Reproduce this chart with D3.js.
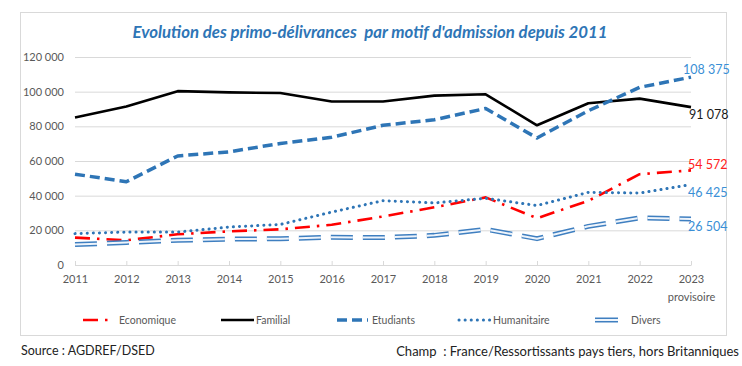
<!DOCTYPE html>
<html>
<head>
<meta charset="utf-8">
<script src="https://cdn.jsdelivr.net/npm/d3@7"></script>
<style>
  body { margin: 0; background: #fff; }
  text { font-family: Lato, "Open Sans", sans-serif; }
</style>
</head>
<body>
<div id="graph"></div>
<script>
// données
var years = ["2011","2012","2013","2014","2015","2016","2017","2018","2019","2020","2021","2022","2023"];
var economique  = [15800, 14300, 17700, 19400, 20600, 23200, 28000, 33300, 39000, 27000, 37000, 52400, 54572];
var familial    = [85100, 91400, 100300, 99600, 99200, 94300, 94300, 97700, 98500, 80600, 93300, 96000, 91078];
var etudiants   = [52400, 48000, 62900, 65300, 70100, 73700, 80600, 83800, 90300, 73300, 89000, 102500, 108375];
var humanitaire = [18100, 19000, 19000, 21900, 23400, 30500, 37100, 35800, 38500, 34300, 41900, 41500, 46425];
var divers      = [11800, 13000, 14300, 14900, 15200, 16000, 15800, 17100, 20600, 15200, 22300, 27200, 26504];
var yTicks = [0, 20000, 40000, 60000, 80000, 100000, 120000];

var width = 742, height = 366;
var fr = d3.formatLocale({ decimal: ",", thousands: " ", grouping: [3], currency: ["", " €"] });
var fmt = fr.format(",");

var svg = d3.select("#graph").append("svg").attr("width", width).attr("height", height);

// cadre
svg.append("rect").attr("x", 20.5).attr("y", 12.5).attr("width", 706).attr("height", 323)
  .attr("fill", "#fff").attr("stroke", "#d9d9d9");

svg.append("text").attr("x", 370).attr("y", 38).attr("text-anchor", "middle")
  .attr("font-size", 16.8).attr("font-weight", "bold").attr("font-style", "italic")
  .attr("fill", "#2e75b6")
  .text("Evolution des primo-délivrances\u00a0 par motif d'admission depuis 2011");

var xScale = d3.scalePoint().domain(years).range([75, 691]);
var yScale = d3.scaleLinear().domain([0, 120000]).range([265, 57]);

// axe Y + grille
var yAxis = svg.append("g").attr("transform", "translate(75,0)")
  .call(d3.axisLeft(yScale).tickValues(yTicks).tickSize(-616).tickFormat(fmt).tickPadding(11));
yAxis.select(".domain").remove();
yAxis.selectAll("line").attr("stroke", "#d9d9d9");
yAxis.selectAll("text").attr("fill", "#595959").attr("font-size", 11).style("font-family", "Lato, sans-serif");

// axe X
var xAxis = svg.append("g").attr("transform", "translate(0,265)")
  .call(d3.axisBottom(xScale).tickSizeInner(-4).tickSizeOuter(0).tickPadding(10));
xAxis.select(".domain").attr("stroke", "#d9d9d9");
xAxis.selectAll("line").attr("stroke", "#d9d9d9");
xAxis.selectAll("text").attr("fill", "#595959").attr("font-size", 11).style("font-family", "Lato, sans-serif");
xAxis.selectAll(".tick").filter(function(d) { return d === "2023"; })
  .append("text").attr("y", 28).attr("dy", "0.71em").attr("fill", "#595959")
  .attr("font-size", 11).attr("text-anchor", "middle").style("font-family", "Lato, sans-serif")
  .text("provisoire");

var line = d3.line().x(function(d, i) { return xScale(years[i]); }).y(function(d) { return yScale(d); });

var series = [
  { name: "Economique", values: economique, strokes: [{ c: "#ff0000", w: 2.6, dash: "15,7,2.5,7" }] },
  { name: "Familial", values: familial, strokes: [{ c: "#000", w: 2.6 }] },
  { name: "Etudiants", values: etudiants, strokes: [{ c: "#2e75b6", w: 3.5, dash: "10,5" }] },
  { name: "Humanitaire", values: humanitaire, strokes: [{ c: "#2e75b6", w: 3, dash: "0.1,6", cap: "round" }] },
  { name: "Divers", values: divers, strokes: [{ c: "#3f7fc0", w: 5, dash: "22,10" }, { c: "#eef4fb", w: 2, dash: "22,10" }] }
];

var chart = svg.append("g");
series.forEach(function(s) {
  s.strokes.forEach(function(st) {
    chart.append("path").datum(s.values).attr("d", line)
      .attr("fill", "none").attr("stroke", st.c).attr("stroke-width", st.w)
      .attr("stroke-dasharray", st.dash || null)
      .attr("stroke-linecap", st.cap || "butt").attr("stroke-linejoin", "round");
  });
});

// étiquettes de fin
var endLabels = [
  { v: etudiants, c: "#3a8fd6", dx: -8, dy: -8 },
  { v: familial, c: "#1a1a1a", dx: -2, dy: 7 },
  { v: economique, c: "#ff2020", dx: -3, dy: -6 },
  { v: humanitaire, c: "#3a8fd6", dx: -3, dy: 8.5 },
  { v: divers, c: "#3a8fd6", dx: -3, dy: 8 }
];
endLabels.forEach(function(l) {
  var last = l.v[l.v.length - 1];
  svg.append("text").attr("x", xScale("2023") + l.dx).attr("y", yScale(last) + l.dy)
    .attr("dy", "0.35em").attr("font-size", 12.5).attr("fill", l.c).text(fmt(last));
});

// légende
var legendX = [{ x0: 83, x1: 108, tx: 119 }, { x0: 221, x1: 254, tx: 256 }, { x0: 337, x1: 368, tx: 372 },
               { x0: 459, x1: 492, tx: 493 }, { x0: 595, x1: 618, tx: 631 }];
var legend = svg.append("g").attr("transform", "translate(0,320)");
series.forEach(function(s, i) {
  var p = legendX[i];
  s.strokes.forEach(function(st) {
    legend.append("line").attr("x1", p.x0).attr("x2", p.x1)
      .attr("stroke", st.c).attr("stroke-width", st.w)
      .attr("stroke-dasharray", s.name === "Divers" ? null : (st.dash || null))
      .attr("stroke-linecap", st.cap || "butt");
  });
  legend.append("text").attr("x", p.tx).attr("dy", "0.35em").attr("font-size", 10.5)
    .attr("fill", "#595959").text(s.name);
});

// sources
svg.append("text").attr("x", 21).attr("y", 351).attr("dy", "0.35em").attr("font-size", 12.5)
  .attr("fill", "#222").text("Source : AGDREF/DSED");
svg.append("text").attr("x", 739).attr("y", 351).attr("dy", "0.35em").attr("font-size", 13)
  .attr("text-anchor", "end").attr("fill", "#222")
  .text("Champ\u00a0 : France/Ressortissants pays tiers, hors Britanniques");
</script>
</body>
</html>
